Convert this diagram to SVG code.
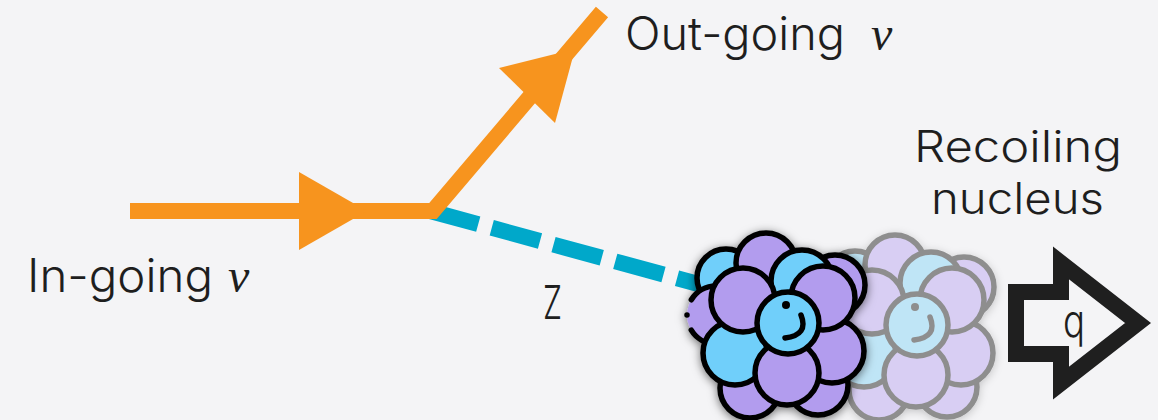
<svg xmlns="http://www.w3.org/2000/svg" xmlns:xlink="http://www.w3.org/1999/xlink" width="1158" height="420" viewBox="0 0 1158 420">
  <defs>
    <style>
      .label{font-family:Inter,"Noto Sans","DejaVu Sans",sans-serif;font-size:46px;font-weight:300;fill:#1e1e1e}
      .small{font-size:43px}
      .nu{font-family:"Liberation Serif","DejaVu Serif",serif;font-style:italic;font-size:48px;fill:#1e1e1e}
      .fermion{fill:none;stroke:#F7941E;stroke-width:16;stroke-linejoin:miter}
      .head{fill:#F7941E}
      .boson{fill:none;stroke:#00A8CA;stroke-width:16;stroke-dasharray:50 14}
      .momentum{fill:none;stroke:#1f1f1f;stroke-width:16;stroke-linejoin:miter;stroke-miterlimit:6}
    </style>
    <filter id="shadow" x="-30%" y="-30%" width="160%" height="160%">
      <feDropShadow dx="0" dy="2" stdDeviation="5" flood-color="#000" flood-opacity="0.55"/>
    </filter>
    <filter id="shadowSoft" x="-30%" y="-30%" width="160%" height="160%">
      <feDropShadow dx="0" dy="2" stdDeviation="4" flood-color="#000" flood-opacity="0.2"/>
    </filter>
    <!-- nucleon cluster: purple nucleons use currentColor, blue ones inherit fill, outlines inherit stroke -->
    <g id="cluster" stroke-width="5.5">
      <!-- outer shell -->
      <circle cx="-62" cy="-45" r="29"/>
      <circle cx="-22" cy="-60" r="30" fill="currentColor"/>
      <circle cx="47" cy="-38" r="30" fill="currentColor"/>
      <circle cx="30" cy="62" r="30" fill="currentColor"/>
      <circle cx="-38" cy="65" r="30" fill="currentColor"/>
      <circle cx="-72" cy="-8" r="29" fill="currentColor" stroke-linecap="round" stroke-dasharray="75 16 0 16 75"/>
      <!-- inner shell -->
      <circle cx="14" cy="-42" r="31"/>
      <circle cx="-53" cy="30" r="32"/>
      <circle cx="44" cy="28" r="32" fill="currentColor"/>
      <circle cx="-45" cy="-23" r="32" fill="currentColor"/>
      <circle cx="35" cy="-25" r="32" fill="currentColor"/>
      <circle cx="-1" cy="50" r="32" fill="currentColor"/>
      <!-- core with highlight -->
      <circle cx="0" cy="0" r="31"/>
      <path d="M-2 -18h0" fill="none" stroke-width="8" stroke-linecap="round"/>
      <path d="M13 -8Q21 12 -3 15" fill="none" stroke-linecap="round"/>
    </g>
  </defs>

  <rect width="1158" height="420" fill="#F4F4F6"/>

  <!-- propagators -->
  <g id="connectors">
    <path class="boson" d="M430 211L702 285"/>
    <path class="fermion" d="M130 211H433L602 12"/>
    <polygon class="head" points="299,172 367,211 299,250"/>
    <polygon class="head" points="499,68 575,49 555,123"/>
  </g>

  <!-- recoiled nucleus (faded) -->
  <g id="nucleus-recoiled">
    <use xlink:href="#cluster" transform="translate(917,325)" fill="#BFE5F6" color="#D8CEF3" stroke="#8E8E8E" filter="url(#shadowSoft)"/>
  </g>

  <!-- struck nucleus -->
  <g id="nucleus">
    <use xlink:href="#cluster" transform="translate(788,323)" fill="#70CFFA" color="#B29CEE" stroke="#000" filter="url(#shadow)"/>
  </g>

  <!-- momentum transfer arrow -->
  <g id="momentum-q">
    <polygon class="momentum" points="1016,292 1061,292 1061,263 1138,323 1061,383 1061,354 1016,354"/>
    <text class="label" x="1063" y="337" textLength="22" lengthAdjust="spacingAndGlyphs">q</text>
  </g>

  <g id="label-in">
    <text class="label" x="27" y="292" textLength="186" lengthAdjust="spacingAndGlyphs">In-going</text>
    <text class="nu" x="228" y="292">ν</text>
  </g>
  <g id="label-out">
    <text class="label" x="625" y="50" textLength="220" lengthAdjust="spacingAndGlyphs">Out-going</text>
    <text class="nu" x="871" y="50">ν</text>
  </g>
  <g id="label-z">
    <text class="label" x="543" y="319" textLength="19" lengthAdjust="spacingAndGlyphs">Z</text>
  </g>
  <g id="label-nucleus">
    <text class="label small" x="914" y="162" textLength="208" lengthAdjust="spacingAndGlyphs">Recoiling</text>
    <text class="label small" x="931" y="214" textLength="173" lengthAdjust="spacingAndGlyphs">nucleus</text>
  </g>
</svg>
